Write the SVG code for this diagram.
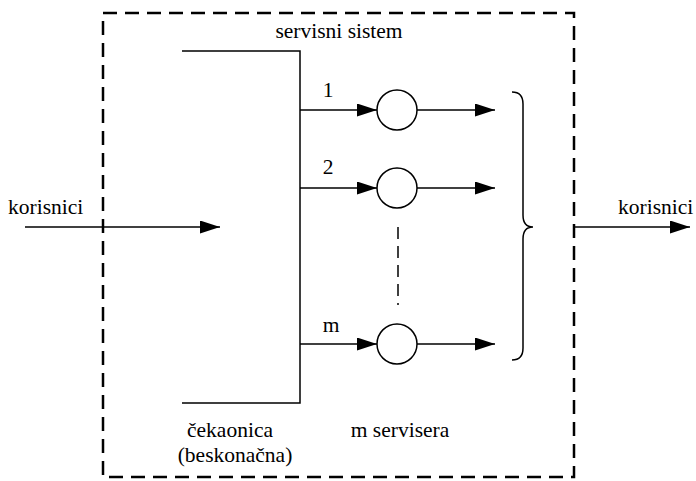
<svg xmlns="http://www.w3.org/2000/svg" width="696" height="481" viewBox="0 0 696 481">
  <defs>
    <marker id="arrow" viewBox="0 0 20 13" refX="20" refY="6.5" markerWidth="20" markerHeight="13" markerUnits="userSpaceOnUse" orient="auto">
      <path d="M0,0 L20,6.5 L0,13 Z" fill="#000"/>
    </marker>
    <style>
      .lbl { font-family: Liberation Serif, DejaVu Serif, serif; font-size: 21.5px; fill: #000; }
      .line { fill: none; stroke: #000; stroke-width: 1.5; }
      .arr { fill: none; stroke: #000; stroke-width: 1.5; marker-end: url(#arrow); }
      .server { fill: #fff; stroke: #000; stroke-width: 1.5; }
      .boundary { fill: none; stroke: #000; stroke-width: 2.5; stroke-dasharray: 14 8; }
      .gap { fill: none; stroke: #000; stroke-width: 1.5; stroke-dasharray: 12 7; }
    </style>
  </defs>

  <!-- system boundary -->
  <g id="system">
    <rect class="boundary" x="103" y="13" width="471" height="464"/>
    <text class="lbl" x="339" y="38" text-anchor="middle">servisni sistem</text>
  </g>

  <!-- waiting queue -->
  <g id="queue">
    <path class="line" d="M182,51 H300 V403 H182"/>
    <text class="lbl" x="230" y="437" text-anchor="middle">čekaonica</text>
    <text class="lbl" x="235" y="462" text-anchor="middle">(beskonačna)</text>
  </g>

  <!-- servers -->
  <g id="server1">
    <circle class="server" cx="397" cy="110" r="20"/>
    <text class="lbl" x="328" y="97" text-anchor="middle">1</text>
  </g>
  <g id="server2">
    <circle class="server" cx="397" cy="188" r="20"/>
    <text class="lbl" x="328" y="174" text-anchor="middle">2</text>
  </g>
  <g id="serverm">
    <circle class="server" cx="397" cy="344" r="20"/>
    <text class="lbl" x="331" y="332" text-anchor="middle">m</text>
  </g>
  <g id="servers-label">
    <text class="lbl" x="400" y="437" text-anchor="middle">m servisera</text>
  </g>

  <!-- output brace -->
  <g id="merge">
    <path class="line" d="M512,92 Q523,92 523,104 L523,215 Q523,227 533,227 Q523,227 523,239 L523,348 Q523,360 512,360"/>
  </g>

  <!-- external users -->
  <g id="input">
    <text class="lbl" x="8" y="214">korisnici</text>
  </g>
  <g id="output">
    <text class="lbl" x="618" y="214">korisnici</text>
  </g>

  <!-- connectors -->
  <g id="connectors">
    <line class="arr" x1="25" y1="227" x2="220" y2="227"/>
    <line class="arr" x1="300" y1="110" x2="377" y2="110"/>
    <line class="arr" x1="300" y1="188" x2="377" y2="188"/>
    <line class="arr" x1="300" y1="344" x2="377" y2="344"/>
    <line class="arr" x1="417" y1="110" x2="495" y2="110"/>
    <line class="arr" x1="417" y1="188" x2="495" y2="188"/>
    <line class="arr" x1="417" y1="344" x2="495" y2="344"/>
    <line class="gap" x1="398" y1="227" x2="398" y2="305"/>
    <line class="arr" x1="574" y1="227" x2="690" y2="227"/>
  </g>
</svg>
